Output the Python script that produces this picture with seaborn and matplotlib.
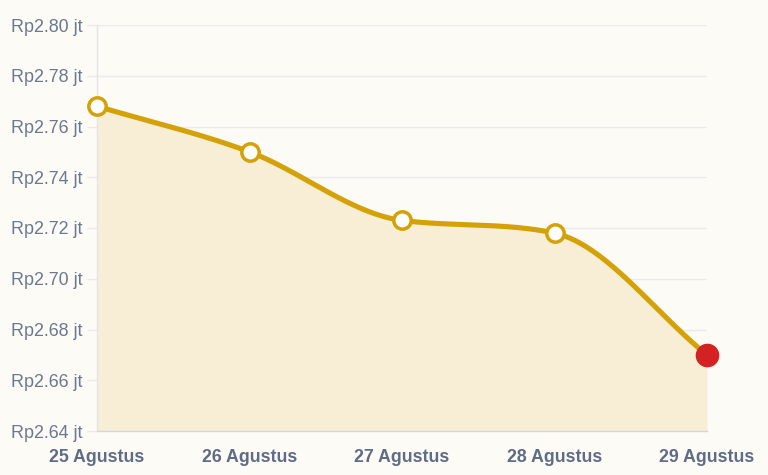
import numpy as np
import pandas as pd
import seaborn as sns
import matplotlib.pyplot as plt
import matplotlib.ticker as ticker

dates = ['25 Agustus', '26 Agustus', '27 Agustus', '28 Agustus', '29 Agustus']
prices = [2.768, 2.750, 2.723, 2.718, 2.670]  # dalam juta rupiah
y_ticks = [2.64, 2.66, 2.68, 2.70, 2.72, 2.74, 2.76, 2.78, 2.80]

GOLD = '#d4a106'
FILL = '#f7eed5'
RED = '#d42222'
BG = '#fdfbf6'
GRID = '#ebebeb'


def monotone(x, y, n=60):
    # kurva monotone cubic (Fritsch-Carlson) untuk garis halus
    x = np.asarray(x, float)
    y = np.asarray(y, float)
    h = np.diff(x)
    d = np.diff(y) / h
    m = np.zeros_like(y)
    m[0], m[-1] = d[0], d[-1]
    for i in range(1, len(y) - 1):
        if d[i - 1] * d[i] <= 0:
            m[i] = 0
        else:
            m[i] = (d[i - 1] + d[i]) / 2
    for i in range(len(d)):
        if d[i] == 0:
            m[i] = m[i + 1] = 0
            continue
        a, b = m[i] / d[i], m[i + 1] / d[i]
        s = a * a + b * b
        if s > 9:
            t = 3 / np.sqrt(s)
            m[i], m[i + 1] = t * a * d[i], t * b * d[i]
    xs, ys = [], []
    for i in range(len(d)):
        t = np.linspace(0, 1, n, endpoint=(i == len(d) - 1))
        h00 = 2 * t**3 - 3 * t**2 + 1
        h10 = t**3 - 2 * t**2 + t
        h01 = -2 * t**3 + 3 * t**2
        h11 = t**3 - t**2
        xs.append(x[i] + t * h[i])
        ys.append(h00 * y[i] + h10 * h[i] * m[i] + h01 * y[i + 1] + h11 * h[i] * m[i + 1])
    return np.concatenate(xs), np.concatenate(ys)


sns.set_theme(style='white')
plt.rcParams['font.family'] = ['Liberation Sans', 'DejaVu Sans']

fig = plt.figure(figsize=(7.68, 4.75), dpi=100, facecolor=BG)
ax = fig.add_axes([97 / 768, 1 - 431 / 475, 610 / 768, 406 / 475])
ax.set_facecolor(BG)

pos = np.arange(len(dates))
xs, ys = monotone(pos, prices)
curve = pd.DataFrame({'x': xs, 'y': ys})

ax.fill_between(xs, 2.64, ys, color=FILL, lw=0, zorder=1)
sns.lineplot(data=curve, x='x', y='y', ax=ax, color=GOLD, lw=3.7, zorder=3,
             sort=False, estimator=None)

pts = pd.DataFrame({'x': pos, 'y': prices})
ax.plot(pts.x[:-1], pts.y[:-1], 'o', ms=12.5, mfc='white', mec=GOLD, mew=2.5,
        zorder=4, clip_on=False)
ax.plot(pts.x.iloc[-1:], pts.y.iloc[-1:], 'o', ms=16, mfc=RED, mec=RED,
        zorder=5, clip_on=False)

ax.set_xlim(0, 4)
ax.set_ylim(2.64, 2.80)
ax.set_yticks(y_ticks)
ax.yaxis.set_major_formatter(ticker.FuncFormatter(lambda v, p: f'Rp{v:.2f} jt'))
ax.set_xticks(pos)
ax.set_xticklabels(dates, fontweight='bold', fontsize=12.8, color='#5f6c86')
ax.tick_params(axis='y', labelsize=12.9, labelcolor='#6b7891', length=7.5,
               color=GRID, width=1, pad=3, left=True)
ax.tick_params(axis='x', length=0, pad=13)
ax.grid(axis='y', color=GRID, lw=1, zorder=0)
ax.set_axisbelow(True)
ax.set_xlabel('')
ax.set_ylabel('')

for s in ['top', 'right']:
    ax.spines[s].set_visible(False)
ax.spines['left'].set_color('#e4e4e4')
ax.spines['bottom'].set_color('#d6d6d6')
ax.spines['left'].set_linewidth(1)
ax.spines['bottom'].set_linewidth(1)

plt.savefig('out.png', dpi=100, facecolor=BG)
